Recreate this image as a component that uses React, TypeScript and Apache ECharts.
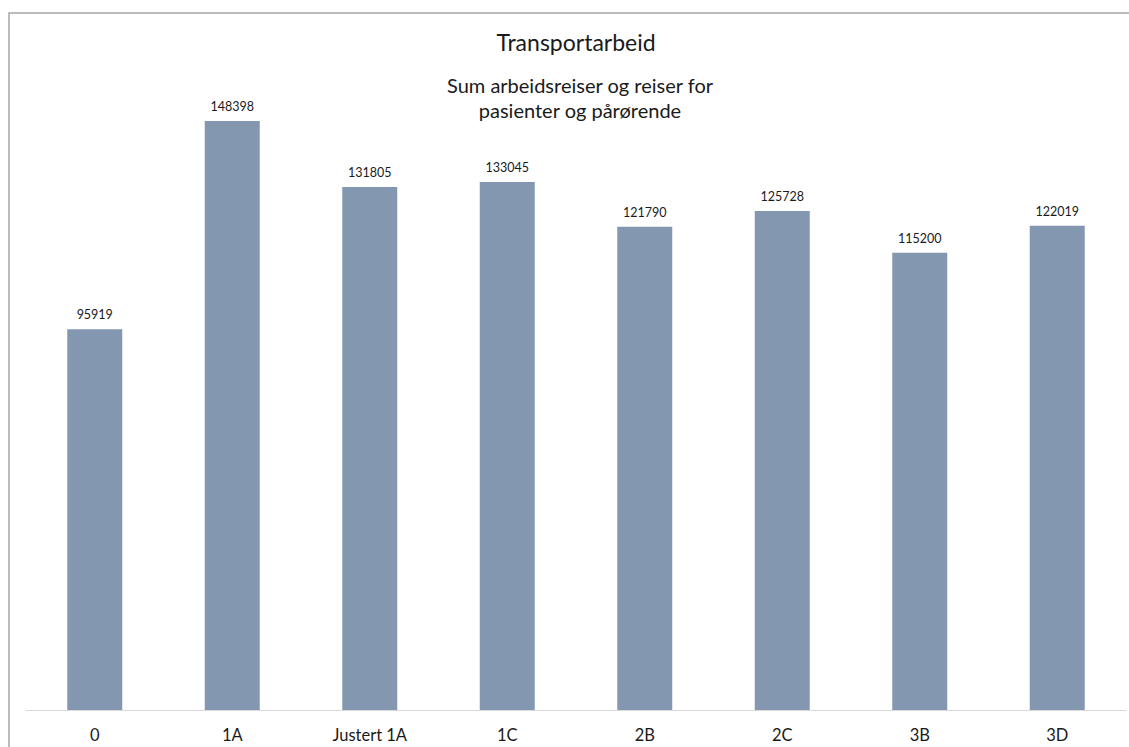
import React, { useEffect, useRef } from "react";
import * as echarts from "echarts";

const categories = ["0", "1A", "Justert 1A", "1C", "2B", "2C", "3B", "3D"];
const transportValues = [95919, 148398, 131805, 133045, 121790, 125728, 115200, 122019];
const titleText = "Transportarbeid";
const subtitleLines = ["Sum arbeidsreiser og reiser for", "pasienter og pårørende"];

const FONT = "Lato, 'Noto Sans', sans-serif";

export default function App() {
  const ref = useRef<HTMLDivElement>(null);

  useEffect(() => {
    if (!ref.current) return;
    const chart = echarts.init(ref.current, null, { renderer: "svg" });
    chart.setOption({
      animation: false,
      backgroundColor: "#ffffff",
      textStyle: { fontFamily: FONT },
      title: [
        {
          text: titleText,
          left: 571,
          top: 25,
          textAlign: "center",
          textStyle: { fontFamily: FONT, fontSize: 23, fontWeight: "normal", color: "#1a1a1a" },
        },
        {
          text: subtitleLines.join("\n"),
          left: 575,
          top: 67,
          textAlign: "center",
          textStyle: {
            fontFamily: FONT,
            fontSize: 20,
            fontWeight: "normal",
            color: "#1a1a1a",
            lineHeight: 25,
          },
        },
      ],
      graphic: [
        {
          type: "polyline",
          shape: { points: [[9, 760], [9, 13], [1140, 13]] },
          style: { stroke: "#a6a6a6", lineWidth: 1.5, fill: "none" },
          silent: true,
        },
      ],
      grid: { left: 26, right: 3, top: 75, bottom: 37, containLabel: false },
      xAxis: {
        type: "category",
        data: categories,
        axisLine: { show: true, lineStyle: { color: "#d9d9d9", width: 1 } },
        axisTick: { show: false },
        axisLabel: { color: "#1a1a1a", fontSize: 16.5, fontFamily: FONT, margin: 16 },
      },
      yAxis: {
        type: "value",
        min: 0,
        max: 160000,
        show: false,
        splitLine: { show: false },
      },
      series: [
        {
          type: "bar",
          data: transportValues,
          barWidth: 55,
          itemStyle: { color: "#8497b0" },
          label: {
            show: true,
            position: "top",
            distance: 8,
            color: "#1a1a1a",
            fontSize: 12.5,
            fontFamily: FONT,
          },
        },
      ],
    });
    return () => chart.dispose();
  }, []);

  return (
    <div
      ref={ref}
      style={{ position: "fixed", left: 0, top: 0, width: 1129, height: 747 }}
    />
  );
}
